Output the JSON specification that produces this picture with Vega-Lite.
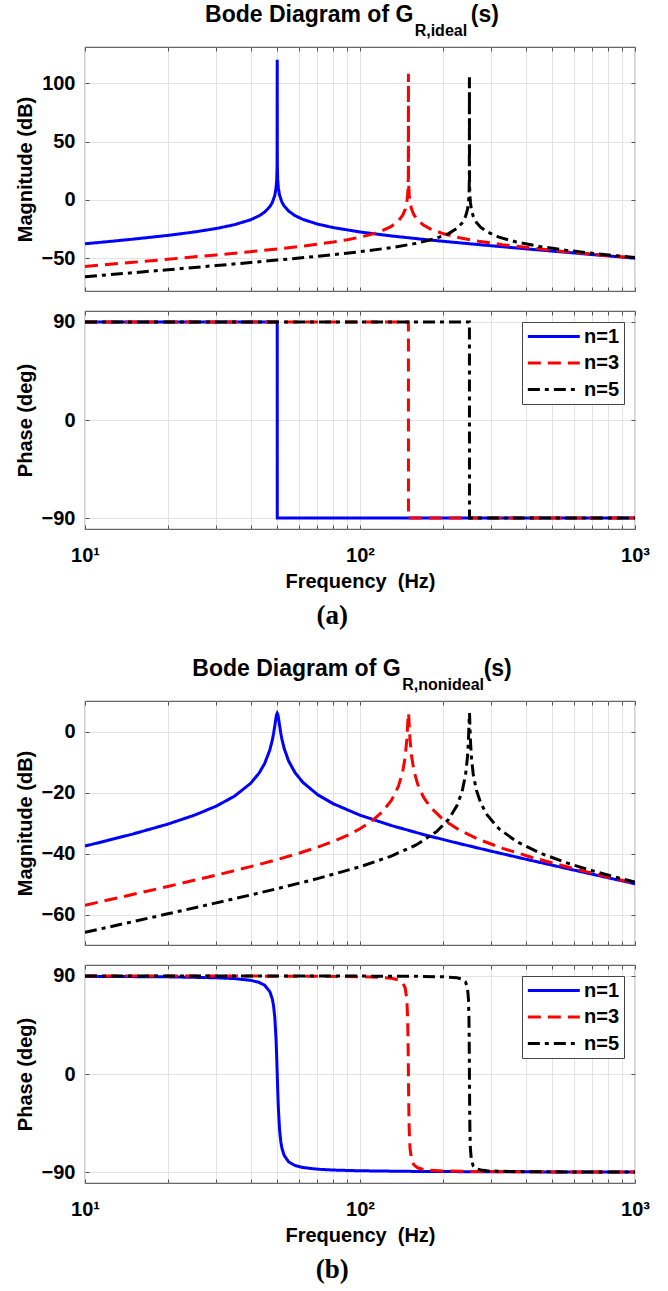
{
  "$schema": "https://vega.github.io/schema/vega-lite/v6.json",
  "background": "white",
  "padding": {"left": 14, "top": 2, "right": 5, "bottom": 2},
  "datasets": {
    "magA": [
      {"f":10,"v":-37.55,"n":"n=1"},{"f":12,"v":-35.8,"n":"n=1"},{"f":15,"v":-33.56,"n":"n=1"},{"f":20,"v":-30.37,"n":"n=1"},{"f":25,"v":-27.44,"n":"n=1"},{"f":30,"v":-24.48,"n":"n=1"},{"f":35,"v":-21.17,"n":"n=1"},{"f":40,"v":-16.99,"n":"n=1"},{"f":43,"v":-13.55,"n":"n=1"},{"f":45,"v":-10.41,"n":"n=1"},{"f":47,"v":-5.78,"n":"n=1"},{"f":48,"v":-2.16,"n":"n=1"},{"f":49,"v":3.95,"n":"n=1"},{"f":49.5,"v":10.01,"n":"n=1"},{"f":49.8,"v":18.0,"n":"n=1"},{"f":49.95,"v":30.05,"n":"n=1"},{"f":50,"v":120,"n":"n=1"},{"f":50.05,"v":30.06,"n":"n=1"},{"f":50.2,"v":18.03,"n":"n=1"},{"f":50.5,"v":10.1,"n":"n=1"},{"f":51,"v":4.12,"n":"n=1"},{"f":52,"v":-1.82,"n":"n=1"},{"f":53,"v":-5.26,"n":"n=1"},{"f":55,"v":-9.54,"n":"n=1"},{"f":58,"v":-13.4,"n":"n=1"},{"f":62,"v":-16.66,"n":"n=1"},{"f":70,"v":-20.65,"n":"n=1"},{"f":80,"v":-23.7,"n":"n=1"},{"f":100,"v":-27.44,"n":"n=1"},{"f":130,"v":-30.83,"n":"n=1"},{"f":170,"v":-33.77,"n":"n=1"},{"f":220,"v":-36.33,"n":"n=1"},{"f":300,"v":-39.24,"n":"n=1"},{"f":400,"v":-41.85,"n":"n=1"},{"f":550,"v":-44.68,"n":"n=1"},{"f":700,"v":-46.8,"n":"n=1"},{"f":850,"v":-48.5,"n":"n=1"},{"f":1000,"v":-49.92,"n":"n=1"},
      {"f":10,"v":-56.95,"n":"n=3"},{"f":15,"v":-53.38,"n":"n=3"},{"f":20,"v":-50.81,"n":"n=3"},{"f":30,"v":-47.09,"n":"n=3"},{"f":40,"v":-44.31,"n":"n=3"},{"f":50,"v":-41.99,"n":"n=3"},{"f":60,"v":-39.91,"n":"n=3"},{"f":70,"v":-37.95,"n":"n=3"},{"f":80,"v":-36.02,"n":"n=3"},{"f":90,"v":-34.03,"n":"n=3"},{"f":100,"v":-31.88,"n":"n=3"},{"f":110,"v":-29.46,"n":"n=3"},{"f":120,"v":-26.53,"n":"n=3"},{"f":130,"v":-22.63,"n":"n=3"},{"f":138,"v":-17.92,"n":"n=3"},{"f":143,"v":-13.08,"n":"n=3"},{"f":146,"v":-8.12,"n":"n=3"},{"f":148,"v":-2.04,"n":"n=3"},{"f":149,"v":4.01,"n":"n=3"},{"f":149.5,"v":10.04,"n":"n=3"},{"f":149.85,"v":20.51,"n":"n=3"},{"f":150,"v":108,"n":"n=3"},{"f":150.15,"v":20.52,"n":"n=3"},{"f":150.5,"v":10.07,"n":"n=3"},{"f":151,"v":4.07,"n":"n=3"},{"f":152,"v":-1.93,"n":"n=3"},{"f":154,"v":-7.89,"n":"n=3"},{"f":157,"v":-12.67,"n":"n=3"},{"f":162,"v":-17.22,"n":"n=3"},{"f":170,"v":-21.46,"n":"n=3"},{"f":180,"v":-24.75,"n":"n=3"},{"f":200,"v":-28.78,"n":"n=3"},{"f":230,"v":-32.37,"n":"n=3"},{"f":270,"v":-35.37,"n":"n=3"},{"f":330,"v":-38.3,"n":"n=3"},{"f":420,"v":-41.22,"n":"n=3"},{"f":550,"v":-44.08,"n":"n=3"},{"f":700,"v":-46.44,"n":"n=3"},{"f":850,"v":-48.26,"n":"n=3"},{"f":1000,"v":-49.75,"n":"n=3"},
      {"f":10,"v":-65.85,"n":"n=5"},{"f":15,"v":-62.31,"n":"n=5"},{"f":20,"v":-59.78,"n":"n=5"},{"f":30,"v":-56.19,"n":"n=5"},{"f":40,"v":-53.6,"n":"n=5"},{"f":50,"v":-51.53,"n":"n=5"},{"f":70,"v":-48.25,"n":"n=5"},{"f":100,"v":-44.35,"n":"n=5"},{"f":130,"v":-40.84,"n":"n=5"},{"f":160,"v":-37.2,"n":"n=5"},{"f":190,"v":-32.8,"n":"n=5"},{"f":210,"v":-28.8,"n":"n=5"},{"f":225,"v":-24.39,"n":"n=5"},{"f":235,"v":-19.76,"n":"n=5"},{"f":242,"v":-14.17,"n":"n=5"},{"f":246,"v":-8.08,"n":"n=5"},{"f":248,"v":-2.02,"n":"n=5"},{"f":249,"v":4.02,"n":"n=5"},{"f":249.5,"v":10.05,"n":"n=5"},{"f":249.8,"v":18.01,"n":"n=5"},{"f":250,"v":105,"n":"n=5"},{"f":250.2,"v":18.02,"n":"n=5"},{"f":250.5,"v":10.07,"n":"n=5"},{"f":251,"v":4.05,"n":"n=5"},{"f":252,"v":-1.95,"n":"n=5"},{"f":254,"v":-7.94,"n":"n=5"},{"f":258,"v":-13.89,"n":"n=5"},{"f":265,"v":-19.24,"n":"n=5"},{"f":275,"v":-23.52,"n":"n=5"},{"f":290,"v":-27.38,"n":"n=5"},{"f":320,"v":-31.86,"n":"n=5"},{"f":370,"v":-36.01,"n":"n=5"},{"f":450,"v":-39.8,"n":"n=5"},{"f":560,"v":-42.98,"n":"n=5"},{"f":700,"v":-45.66,"n":"n=5"},{"f":850,"v":-47.75,"n":"n=5"},{"f":1000,"v":-49.38,"n":"n=5"}
    ],
    "phaseA": [
      {"f":10,"v":90,"n":"n=1"},{"f":50,"v":90,"n":"n=1"},{"f":50.02,"v":-90,"n":"n=1"},{"f":1000,"v":-90,"n":"n=1"},
      {"f":10,"v":90,"n":"n=3"},{"f":150,"v":90,"n":"n=3"},{"f":150.05,"v":-90,"n":"n=3"},{"f":1000,"v":-90,"n":"n=3"},
      {"f":10,"v":90,"n":"n=5"},{"f":250,"v":90,"n":"n=5"},{"f":250.1,"v":-90,"n":"n=5"},{"f":1000,"v":-90,"n":"n=5"}
    ],
    "magB": [
      {"f":10,"v":-37.55,"n":"n=1"},{"f":12,"v":-35.8,"n":"n=1"},{"f":15,"v":-33.56,"n":"n=1"},{"f":20,"v":-30.37,"n":"n=1"},{"f":25,"v":-27.44,"n":"n=1"},{"f":30,"v":-24.48,"n":"n=1"},{"f":35,"v":-21.18,"n":"n=1"},{"f":40,"v":-17.01,"n":"n=1"},{"f":43,"v":-13.59,"n":"n=1"},{"f":45,"v":-10.51,"n":"n=1"},{"f":47,"v":-6.06,"n":"n=1"},{"f":48,"v":-2.78,"n":"n=1"},{"f":48.5,"v":-0.67,"n":"n=1"},{"f":49,"v":1.85,"n":"n=1"},{"f":49.5,"v":4.56,"n":"n=1"},{"f":49.75,"v":5.61,"n":"n=1"},{"f":50,"v":6.02,"n":"n=1"},{"f":50.25,"v":5.61,"n":"n=1"},{"f":50.5,"v":4.59,"n":"n=1"},{"f":51,"v":1.96,"n":"n=1"},{"f":51.5,"v":-0.46,"n":"n=1"},{"f":52,"v":-2.48,"n":"n=1"},{"f":53,"v":-5.57,"n":"n=1"},{"f":55,"v":-9.66,"n":"n=1"},{"f":58,"v":-13.45,"n":"n=1"},{"f":62,"v":-16.69,"n":"n=1"},{"f":70,"v":-20.66,"n":"n=1"},{"f":80,"v":-23.7,"n":"n=1"},{"f":100,"v":-27.44,"n":"n=1"},{"f":130,"v":-30.83,"n":"n=1"},{"f":170,"v":-33.77,"n":"n=1"},{"f":220,"v":-36.33,"n":"n=1"},{"f":300,"v":-39.24,"n":"n=1"},{"f":400,"v":-41.85,"n":"n=1"},{"f":550,"v":-44.68,"n":"n=1"},{"f":700,"v":-46.8,"n":"n=1"},{"f":850,"v":-48.5,"n":"n=1"},{"f":1000,"v":-49.92,"n":"n=1"},
      {"f":10,"v":-56.95,"n":"n=3"},{"f":15,"v":-53.38,"n":"n=3"},{"f":20,"v":-50.81,"n":"n=3"},{"f":30,"v":-47.09,"n":"n=3"},{"f":40,"v":-44.31,"n":"n=3"},{"f":50,"v":-41.99,"n":"n=3"},{"f":60,"v":-39.91,"n":"n=3"},{"f":70,"v":-37.95,"n":"n=3"},{"f":80,"v":-36.02,"n":"n=3"},{"f":90,"v":-34.03,"n":"n=3"},{"f":100,"v":-31.88,"n":"n=3"},{"f":110,"v":-29.46,"n":"n=3"},{"f":120,"v":-26.53,"n":"n=3"},{"f":130,"v":-22.63,"n":"n=3"},{"f":138,"v":-17.94,"n":"n=3"},{"f":143,"v":-13.13,"n":"n=3"},{"f":146,"v":-8.29,"n":"n=3"},{"f":148,"v":-2.67,"n":"n=3"},{"f":149,"v":1.89,"n":"n=3"},{"f":149.5,"v":4.57,"n":"n=3"},{"f":149.75,"v":5.61,"n":"n=3"},{"f":150,"v":6.02,"n":"n=3"},{"f":150.25,"v":5.61,"n":"n=3"},{"f":150.5,"v":4.58,"n":"n=3"},{"f":151,"v":1.92,"n":"n=3"},{"f":152,"v":-2.57,"n":"n=3"},{"f":154,"v":-8.06,"n":"n=3"},{"f":157,"v":-12.73,"n":"n=3"},{"f":162,"v":-17.24,"n":"n=3"},{"f":170,"v":-21.46,"n":"n=3"},{"f":180,"v":-24.75,"n":"n=3"},{"f":200,"v":-28.78,"n":"n=3"},{"f":230,"v":-32.37,"n":"n=3"},{"f":270,"v":-35.37,"n":"n=3"},{"f":330,"v":-38.3,"n":"n=3"},{"f":420,"v":-41.22,"n":"n=3"},{"f":550,"v":-44.08,"n":"n=3"},{"f":700,"v":-46.44,"n":"n=3"},{"f":850,"v":-48.26,"n":"n=3"},{"f":1000,"v":-49.75,"n":"n=3"},
      {"f":10,"v":-65.85,"n":"n=5"},{"f":15,"v":-62.31,"n":"n=5"},{"f":20,"v":-59.78,"n":"n=5"},{"f":30,"v":-56.19,"n":"n=5"},{"f":40,"v":-53.6,"n":"n=5"},{"f":50,"v":-51.53,"n":"n=5"},{"f":70,"v":-48.25,"n":"n=5"},{"f":100,"v":-44.35,"n":"n=5"},{"f":130,"v":-40.84,"n":"n=5"},{"f":160,"v":-37.2,"n":"n=5"},{"f":190,"v":-32.8,"n":"n=5"},{"f":210,"v":-28.8,"n":"n=5"},{"f":225,"v":-24.39,"n":"n=5"},{"f":235,"v":-19.77,"n":"n=5"},{"f":242,"v":-14.21,"n":"n=5"},{"f":246,"v":-8.24,"n":"n=5"},{"f":248,"v":-2.65,"n":"n=5"},{"f":249,"v":1.9,"n":"n=5"},{"f":249.5,"v":4.57,"n":"n=5"},{"f":249.75,"v":5.61,"n":"n=5"},{"f":250,"v":6.02,"n":"n=5"},{"f":250.25,"v":5.61,"n":"n=5"},{"f":250.5,"v":4.58,"n":"n=5"},{"f":251,"v":1.92,"n":"n=5"},{"f":252,"v":-2.59,"n":"n=5"},{"f":254,"v":-8.11,"n":"n=5"},{"f":258,"v":-13.93,"n":"n=5"},{"f":265,"v":-19.25,"n":"n=5"},{"f":275,"v":-23.52,"n":"n=5"},{"f":290,"v":-27.38,"n":"n=5"},{"f":320,"v":-31.86,"n":"n=5"},{"f":370,"v":-36.01,"n":"n=5"},{"f":450,"v":-39.8,"n":"n=5"},{"f":560,"v":-42.98,"n":"n=5"},{"f":700,"v":-45.66,"n":"n=5"},{"f":850,"v":-47.75,"n":"n=5"},{"f":1000,"v":-49.38,"n":"n=5"}
    ],
    "phaseB": [
      {"f":10,"v":89.62,"n":"n=1"},{"f":20,"v":89.13,"n":"n=1"},{"f":30,"v":88.29,"n":"n=1"},{"f":35,"v":87.5,"n":"n=1"},{"f":40,"v":85.95,"n":"n=1"},{"f":43,"v":84.0,"n":"n=1"},{"f":45,"v":81.42,"n":"n=1"},{"f":47,"v":75.58,"n":"n=1"},{"f":48,"v":68.7,"n":"n=1"},{"f":48.5,"v":62.42,"n":"n=1"},{"f":49,"v":51.77,"n":"n=1"},{"f":49.5,"v":32.28,"n":"n=1"},{"f":49.75,"v":17.48,"n":"n=1"},{"f":50,"v":0,"n":"n=1"},{"f":50.25,"v":-17.4,"n":"n=1"},{"f":50.5,"v":-32.02,"n":"n=1"},{"f":51,"v":-51.21,"n":"n=1"},{"f":51.5,"v":-61.7,"n":"n=1"},{"f":52,"v":-67.92,"n":"n=1"},{"f":53,"v":-74.73,"n":"n=1"},{"f":55,"v":-80.53,"n":"n=1"},{"f":58,"v":-83.9,"n":"n=1"},{"f":62,"v":-85.8,"n":"n=1"},{"f":70,"v":-87.34,"n":"n=1"},{"f":80,"v":-88.13,"n":"n=1"},{"f":100,"v":-88.78,"n":"n=1"},{"f":150,"v":-89.32,"n":"n=1"},{"f":200,"v":-89.51,"n":"n=1"},{"f":300,"v":-89.69,"n":"n=1"},{"f":500,"v":-89.82,"n":"n=1"},{"f":1000,"v":-89.91,"n":"n=1"},
      {"f":10,"v":89.96,"n":"n=3"},{"f":20,"v":89.92,"n":"n=3"},{"f":30,"v":89.87,"n":"n=3"},{"f":50,"v":89.77,"n":"n=3"},{"f":70,"v":89.64,"n":"n=3"},{"f":100,"v":89.27,"n":"n=3"},{"f":120,"v":88.65,"n":"n=3"},{"f":130,"v":87.88,"n":"n=3"},{"f":138,"v":86.36,"n":"n=3"},{"f":143,"v":83.67,"n":"n=3"},{"f":146,"v":78.9,"n":"n=3"},{"f":148,"v":68.44,"n":"n=3"},{"f":149,"v":51.59,"n":"n=3"},{"f":149.5,"v":32.19,"n":"n=3"},{"f":149.75,"v":17.46,"n":"n=3"},{"f":150,"v":0,"n":"n=3"},{"f":150.25,"v":-17.43,"n":"n=3"},{"f":150.5,"v":-32.1,"n":"n=3"},{"f":151,"v":-51.4,"n":"n=3"},{"f":152,"v":-68.17,"n":"n=3"},{"f":154,"v":-78.6,"n":"n=3"},{"f":157,"v":-83.37,"n":"n=3"},{"f":162,"v":-86.06,"n":"n=3"},{"f":170,"v":-87.58,"n":"n=3"},{"f":180,"v":-88.34,"n":"n=3"},{"f":200,"v":-88.96,"n":"n=3"},{"f":250,"v":-89.43,"n":"n=3"},{"f":350,"v":-89.68,"n":"n=3"},{"f":500,"v":-89.8,"n":"n=3"},{"f":1000,"v":-89.91,"n":"n=3"},
      {"f":10,"v":89.99,"n":"n=5"},{"f":50,"v":89.96,"n":"n=5"},{"f":100,"v":89.83,"n":"n=5"},{"f":160,"v":89.6,"n":"n=5"},{"f":200,"v":89.19,"n":"n=5"},{"f":225,"v":88.27,"n":"n=5"},{"f":235,"v":87.06,"n":"n=5"},{"f":242,"v":84.41,"n":"n=5"},{"f":246,"v":78.84,"n":"n=5"},{"f":248,"v":68.39,"n":"n=5"},{"f":249,"v":51.54,"n":"n=5"},{"f":249.5,"v":32.17,"n":"n=5"},{"f":249.75,"v":17.45,"n":"n=5"},{"f":250,"v":0,"n":"n=5"},{"f":250.25,"v":-17.43,"n":"n=5"},{"f":250.5,"v":-32.11,"n":"n=5"},{"f":251,"v":-51.43,"n":"n=5"},{"f":252,"v":-68.23,"n":"n=5"},{"f":254,"v":-78.66,"n":"n=5"},{"f":258,"v":-84.23,"n":"n=5"},{"f":265,"v":-86.88,"n":"n=5"},{"f":275,"v":-88.09,"n":"n=5"},{"f":290,"v":-88.78,"n":"n=5"},{"f":320,"v":-89.27,"n":"n=5"},{"f":400,"v":-89.63,"n":"n=5"},{"f":600,"v":-89.82,"n":"n=5"},{"f":1000,"v":-89.9,"n":"n=5"}
    ]
  },
  "spacing": 26,
  "resolve": {"scale": {"color": "independent", "strokeDash": "independent"}},
  "vconcat": [
    {
      "spacing": 16,
      "resolve": {"scale": {"color": "independent", "strokeDash": "independent"}},
      "vconcat": [
        {
          "width": 550, "height": 244,
          "title": {"text": "Bode Diagram of G\u00a0\u00a0\u00a0\u00a0\u00a0\u00a0\u00a0\u00a0\u00a0(s)", "subtitle": "\u200b\u00a0\u00a0\u00a0\u00a0\u00a0\u00a0\u00a0\u00a0\u00a0\u00a0\u00a0\u00a0\u00a0\u00a0\u00a0\u00a0\u00a0\u00a0\u00a0\u00a0\u00a0\u00a0\u00a0\u00a0\u00a0\u00a0\u00a0\u00a0\u00a0\u00a0\u00a0\u00a0\u00a0\u00a0\u00a0\u00a0\u00a0\u00a0\u00a0\u00a0R,ideal", "anchor": "middle", "frame": "group", "offset": 8, "subtitlePadding": -4, "dx": -8},
          "layer": [
            {
              "data": {"name": "magA"},
              "mark": {"type": "line", "strokeWidth": 3, "clip": true},
              "encoding": {
                "x": {"field": "f", "type": "quantitative", "scale": {"type": "log", "domain": [10, 1000], "nice": false}, "axis": {"orient": "bottom", "values": [10,20,30,40,50,60,70,80,90,100,200,300,400,500,600,700,800,900,1000], "labels": false, "title": null, "grid": true, "tickSize": -4, "domain": false}},
                "y": {"field": "v", "type": "quantitative", "scale": {"domain": [-78, 131], "nice": false, "zero": false}, "axis": {"orient": "left", "values": [-50, 0, 50, 100], "title": "Magnitude (dB)", "grid": true, "tickSize": -4, "labelPadding": 14, "titlePadding": 6, "domain": false}},
                "color": {"field": "n", "type": "nominal", "scale": {"domain": ["n=1", "n=3", "n=5"], "range": ["#0000ff", "#ff0000", "#000000"]}, "legend": null},
                "strokeDash": {"field": "n", "type": "nominal", "scale": {"domain": ["n=1", "n=3", "n=5"], "range": [[1, 0], [13, 7], [12, 5, 4, 5]]}, "legend": null}
              }
            },
            {
              "data": {"name": "magA"},
              "mark": {"type": "point", "opacity": 0},
              "encoding": {
                "x": {"field": "f", "type": "quantitative", "axis": {"orient": "top", "values": [10,20,30,40,50,60,70,80,90,100,200,300,400,500,600,700,800,900,1000], "labels": false, "title": null, "grid": false, "tickSize": -4, "domain": false}},
                "y": {"field": "v", "type": "quantitative", "axis": {"orient": "right", "values": [-50, 0, 50, 100], "labels": false, "title": null, "grid": false, "tickSize": -4, "domain": false}}
              }
            }
          ],
          "resolve": {"axis": {"x": "independent", "y": "independent"}}
        },
        {
          "width": 550, "height": 218,
          "title": {"text": "(a)", "orient": "bottom", "font": "Liberation Serif", "fontSize": 27, "fontWeight": "bold", "anchor": "middle", "frame": "bounds", "offset": 12},
          "layer": [
            {
              "data": {"name": "phaseA"},
              "mark": {"type": "line", "strokeWidth": 3, "clip": true},
              "encoding": {
                "x": {"field": "f", "type": "quantitative", "scale": {"type": "log", "domain": [10, 1000], "nice": false}, "axis": {"orient": "bottom", "values": [10,20,30,40,50,60,70,80,90,100,200,300,400,500,600,700,800,900,1000], "labelExpr": "datum.value == 10 ? '10¹' : datum.value == 100 ? '10²' : datum.value == 1000 ? '10³' : ''", "labelFlush": false, "labelPadding": 20, "title": "Frequency\u00a0 (Hz)", "titlePadding": 6, "grid": true, "tickSize": -4, "domain": false}},
                "y": {"field": "v", "type": "quantitative", "scale": {"domain": [-100, 100], "nice": false, "zero": false}, "axis": {"orient": "left", "values": [-90, 0, 90], "title": "Phase (deg)", "grid": true, "tickSize": -4, "labelPadding": 14, "titlePadding": 6, "domain": false}},
                "color": {"field": "n", "type": "nominal", "scale": {"domain": ["n=1", "n=3", "n=5"], "range": ["#0000ff", "#ff0000", "#000000"]}, "legend": {"orient": "top-right", "title": null, "symbolType": "M-1,0H5", "symbolSize": 300, "symbolStrokeWidth": 3, "labelOffset": 37, "rowPadding": 5.5, "padding": 4, "offset": 11}},
                "strokeDash": {"field": "n", "type": "nominal", "scale": {"domain": ["n=1", "n=3", "n=5"], "range": [[1, 0], [13, 7], [12, 5, 4, 5]]}, "legend": {"orient": "top-right", "title": null, "symbolType": "M-1,0H5", "symbolSize": 300, "symbolStrokeWidth": 3, "labelOffset": 37, "rowPadding": 5.5, "padding": 4, "offset": 11}}
              }
            },
            {
              "data": {"name": "phaseA"},
              "mark": {"type": "point", "opacity": 0},
              "encoding": {
                "x": {"field": "f", "type": "quantitative", "axis": {"orient": "top", "values": [10,20,30,40,50,60,70,80,90,100,200,300,400,500,600,700,800,900,1000], "labels": false, "title": null, "grid": false, "tickSize": -4, "domain": false}},
                "y": {"field": "v", "type": "quantitative", "axis": {"orient": "right", "values": [-90, 0, 90], "labels": false, "title": null, "grid": false, "tickSize": -4, "domain": false}}
              }
            }
          ],
          "resolve": {"axis": {"x": "independent", "y": "independent"}}
        }
      ]
    },
    {
      "spacing": 16,
      "resolve": {"scale": {"color": "independent", "strokeDash": "independent"}},
      "vconcat": [
        {
          "width": 550, "height": 244,
          "title": {"text": "Bode Diagram of G\u00a0\u00a0\u00a0\u00a0\u00a0\u00a0\u00a0\u00a0\u00a0\u00a0\u00a0\u00a0\u00a0(s)", "subtitle": "\u200b\u00a0\u00a0\u00a0\u00a0\u00a0\u00a0\u00a0\u00a0\u00a0\u00a0\u00a0\u00a0\u00a0\u00a0\u00a0\u00a0\u00a0\u00a0\u00a0\u00a0\u00a0\u00a0\u00a0\u00a0\u00a0\u00a0\u00a0\u00a0\u00a0\u00a0\u00a0\u00a0\u00a0\u00a0\u00a0\u00a0\u00a0\u00a0\u00a0\u00a0\u00a0R,nonideal", "anchor": "middle", "frame": "group", "offset": 8, "subtitlePadding": -4, "dx": -8},
          "layer": [
            {
              "data": {"name": "magB"},
              "mark": {"type": "line", "strokeWidth": 3, "clip": true},
              "encoding": {
                "x": {"field": "f", "type": "quantitative", "scale": {"type": "log", "domain": [10, 1000], "nice": false}, "axis": {"orient": "bottom", "values": [10,20,30,40,50,60,70,80,90,100,200,300,400,500,600,700,800,900,1000], "labels": false, "title": null, "grid": true, "tickSize": -4, "domain": false}},
                "y": {"field": "v", "type": "quantitative", "scale": {"domain": [-70, 10], "nice": false, "zero": false}, "axis": {"orient": "left", "values": [-60, -40, -20, 0], "title": "Magnitude (dB)", "grid": true, "tickSize": -4, "labelPadding": 14, "titlePadding": 6, "domain": false}},
                "color": {"field": "n", "type": "nominal", "scale": {"domain": ["n=1", "n=3", "n=5"], "range": ["#0000ff", "#ff0000", "#000000"]}, "legend": null},
                "strokeDash": {"field": "n", "type": "nominal", "scale": {"domain": ["n=1", "n=3", "n=5"], "range": [[1, 0], [13, 7], [12, 5, 4, 5]]}, "legend": null}
              }
            },
            {
              "data": {"name": "magB"},
              "mark": {"type": "point", "opacity": 0},
              "encoding": {
                "x": {"field": "f", "type": "quantitative", "axis": {"orient": "top", "values": [10,20,30,40,50,60,70,80,90,100,200,300,400,500,600,700,800,900,1000], "labels": false, "title": null, "grid": false, "tickSize": -4, "domain": false}},
                "y": {"field": "v", "type": "quantitative", "axis": {"orient": "right", "values": [-60, -40, -20, 0], "labels": false, "title": null, "grid": false, "tickSize": -4, "domain": false}}
              }
            }
          ],
          "resolve": {"axis": {"x": "independent", "y": "independent"}}
        },
        {
          "width": 550, "height": 218,
          "title": {"text": "(b)", "orient": "bottom", "font": "Liberation Serif", "fontSize": 27, "fontWeight": "bold", "anchor": "middle", "frame": "bounds", "offset": 12},
          "layer": [
            {
              "data": {"name": "phaseB"},
              "mark": {"type": "line", "strokeWidth": 3, "clip": true},
              "encoding": {
                "x": {"field": "f", "type": "quantitative", "scale": {"type": "log", "domain": [10, 1000], "nice": false}, "axis": {"orient": "bottom", "values": [10,20,30,40,50,60,70,80,90,100,200,300,400,500,600,700,800,900,1000], "labelExpr": "datum.value == 10 ? '10¹' : datum.value == 100 ? '10²' : datum.value == 1000 ? '10³' : ''", "labelFlush": false, "labelPadding": 20, "title": "Frequency\u00a0 (Hz)", "titlePadding": 6, "grid": true, "tickSize": -4, "domain": false}},
                "y": {"field": "v", "type": "quantitative", "scale": {"domain": [-100, 100], "nice": false, "zero": false}, "axis": {"orient": "left", "values": [-90, 0, 90], "title": "Phase (deg)", "grid": true, "tickSize": -4, "labelPadding": 14, "titlePadding": 6, "domain": false}},
                "color": {"field": "n", "type": "nominal", "scale": {"domain": ["n=1", "n=3", "n=5"], "range": ["#0000ff", "#ff0000", "#000000"]}, "legend": {"orient": "top-right", "title": null, "symbolType": "M-1,0H5", "symbolSize": 300, "symbolStrokeWidth": 3, "labelOffset": 37, "rowPadding": 5.5, "padding": 4, "offset": 11}},
                "strokeDash": {"field": "n", "type": "nominal", "scale": {"domain": ["n=1", "n=3", "n=5"], "range": [[1, 0], [13, 7], [12, 5, 4, 5]]}, "legend": {"orient": "top-right", "title": null, "symbolType": "M-1,0H5", "symbolSize": 300, "symbolStrokeWidth": 3, "labelOffset": 37, "rowPadding": 5.5, "padding": 4, "offset": 11}}
              }
            },
            {
              "data": {"name": "phaseB"},
              "mark": {"type": "point", "opacity": 0},
              "encoding": {
                "x": {"field": "f", "type": "quantitative", "axis": {"orient": "top", "values": [10,20,30,40,50,60,70,80,90,100,200,300,400,500,600,700,800,900,1000], "labels": false, "title": null, "grid": false, "tickSize": -4, "domain": false}},
                "y": {"field": "v", "type": "quantitative", "axis": {"orient": "right", "values": [-90, 0, 90], "labels": false, "title": null, "grid": false, "tickSize": -4, "domain": false}}
              }
            }
          ],
          "resolve": {"axis": {"x": "independent", "y": "independent"}}
        }
      ]
    }
  ],
  "config": {
    "font": "Liberation Sans",
    "view": {"stroke": "#666666", "strokeWidth": 1.2},
    "axis": {"labelFont": "Liberation Sans", "labelFontSize": 20, "labelFontWeight": "bold", "labelColor": "#000000", "titleFont": "Liberation Sans", "titleFontSize": 20, "titleFontWeight": "bold", "titleColor": "#000000", "gridColor": "#e3e3e3", "gridWidth": 1, "tickColor": "#555555", "tickWidth": 1},
    "title": {"font": "Liberation Sans", "fontSize": 23, "fontWeight": "bold", "color": "#000000", "subtitleFont": "Liberation Sans", "subtitleFontSize": 16, "subtitleFontWeight": "bold", "subtitleColor": "#000000"},
    "legend": {"labelFont": "Liberation Sans", "labelFontSize": 20, "labelFontWeight": "bold", "labelColor": "#000000", "strokeColor": "#444444", "fillColor": "#ffffff"}
  }
}
